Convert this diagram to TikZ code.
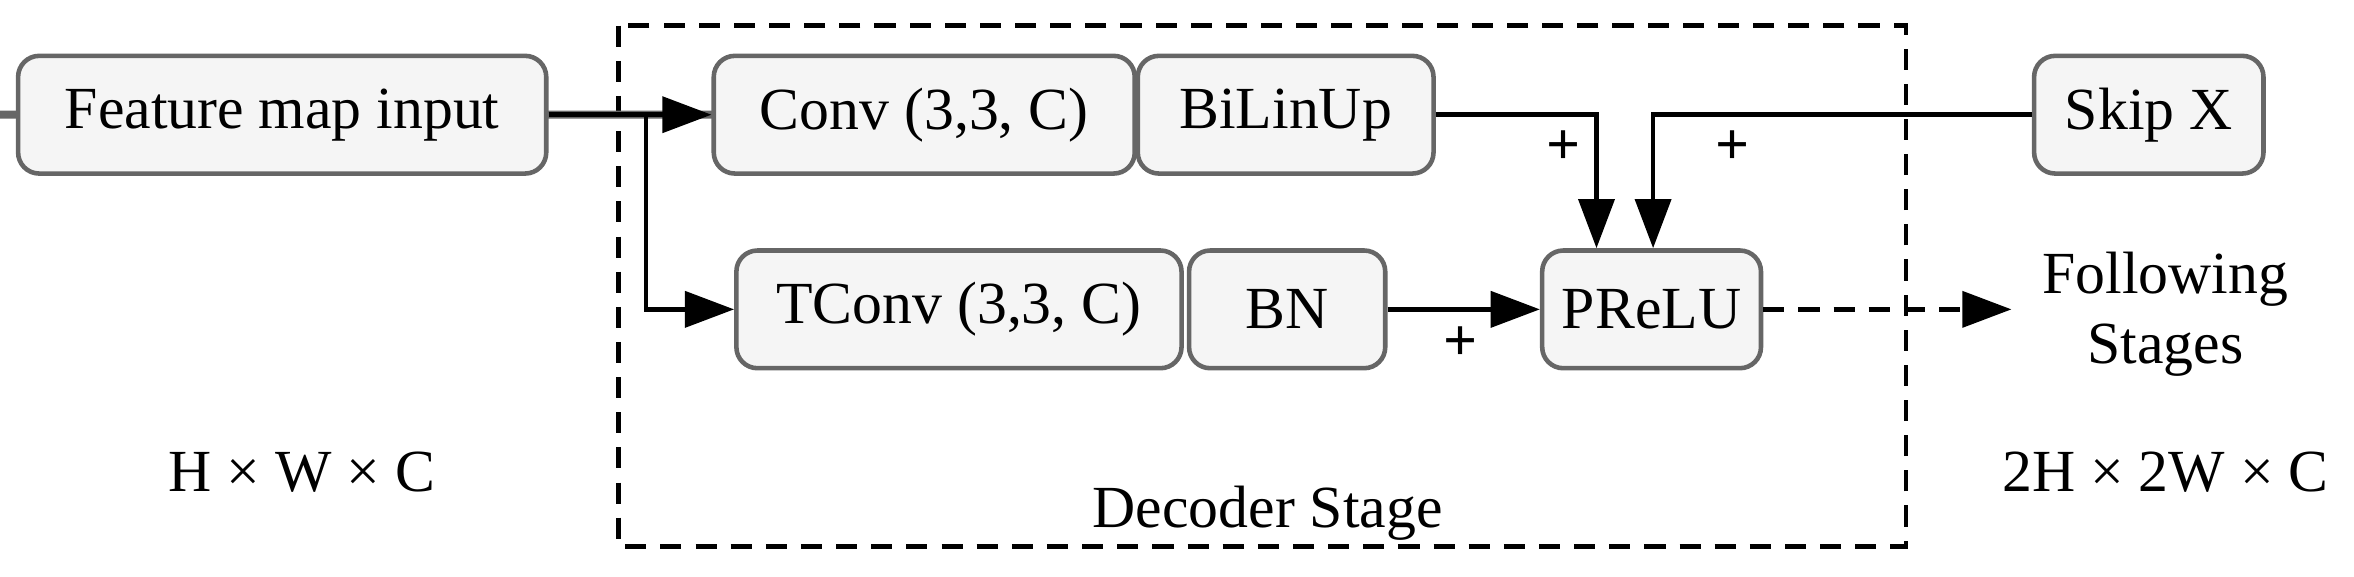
\documentclass[tikz,border=0pt]{standalone}
\usepackage{fontspec}
\setmainfont{Liberation Serif}
\usetikzlibrary{arrows.meta}
\begin{document}
\begin{tikzpicture}[x=0.01509cm,y=-0.01509cm,
  box/.style={draw=black!60,fill=black!4,line width=1.3pt,rounded corners=6pt,inner sep=0pt,font=\fontsize{17}{20}\selectfont},
  txt/.style={font=\fontsize{17}{20}\selectfont,align=center},
  arr/.style={line width=1.3pt,-{Triangle[length=14pt,width=10pt,angle'=40]}},
  pl/.style={font=\fontsize{17}{20}\selectfont\bfseries}]
\useasboundingbox (0,0) rectangle (1560,382);
\draw[line width=1.3pt,dashed,dash pattern=on 6pt off 4pt] (410,17) rectangle (1263,362);
\node[box,minimum width=350\pgflinewidth] (in) at (187,76) {};
\node[box,anchor=center] (fin) at (187,76) {\parbox[c][78\dimexpr0.01509cm\relax][c]{350\dimexpr0.01509cm\relax}{\centering Feature map input}};
\node[box] (conv) at (612.5,76) {\parbox[c][78\dimexpr0.01509cm\relax][c]{279\dimexpr0.01509cm\relax}{\centering Conv (3,3, C)}};
\node[box] (bil) at (852,76) {\parbox[c][78\dimexpr0.01509cm\relax][c]{196\dimexpr0.01509cm\relax}{\centering BiLinUp}};
\node[box] (tconv) at (635.5,205) {\parbox[c][78\dimexpr0.01509cm\relax][c]{295\dimexpr0.01509cm\relax}{\centering TConv (3,3, C)}};
\node[box] (bn) at (853,205) {\parbox[c][78\dimexpr0.01509cm\relax][c]{130\dimexpr0.01509cm\relax}{\centering BN}};
\node[box] (pr) at (1094.5,205) {\parbox[c][78\dimexpr0.01509cm\relax][c]{145\dimexpr0.01509cm\relax}{\centering PReLU}};
\node[box] (skip) at (1424,76) {\parbox[c][78\dimexpr0.01509cm\relax][c]{152\dimexpr0.01509cm\relax}{\centering Skip X}};
\node[txt] (fol) at (1435,208) {Following\\Stages};
\node[txt] (d2) at (1435,313) {2H × 2W × C};
\node[txt] (d1) at (200,313) {H × W × C};
\node[txt] (dec) at (840,340) {Decoder Stage};
\coordinate (br) at (428,76);
\draw[arr] (fin.east) -- (conv.west);
\draw[arr] (br) |- (tconv.west);
\draw[arr] (bil.east) -| (1058,0 |- pr.north) coordinate (p1);
\draw[arr] (skip.west) -| ([xshift=38\dimexpr0.01509cm\relax]pr.north);
\draw[arr] (bn.east) -- (pr.west);
\coordinate (fe) at (1333,205);
\draw[arr,dashed,dash pattern=on 6pt off 4pt] (pr.east) -- (fe);
\node[pl] at (1036,98) {+};
\node[pl] at (1148,98) {+};
\node[pl] at (968,228) {+};
\end{tikzpicture}
\end{document}
